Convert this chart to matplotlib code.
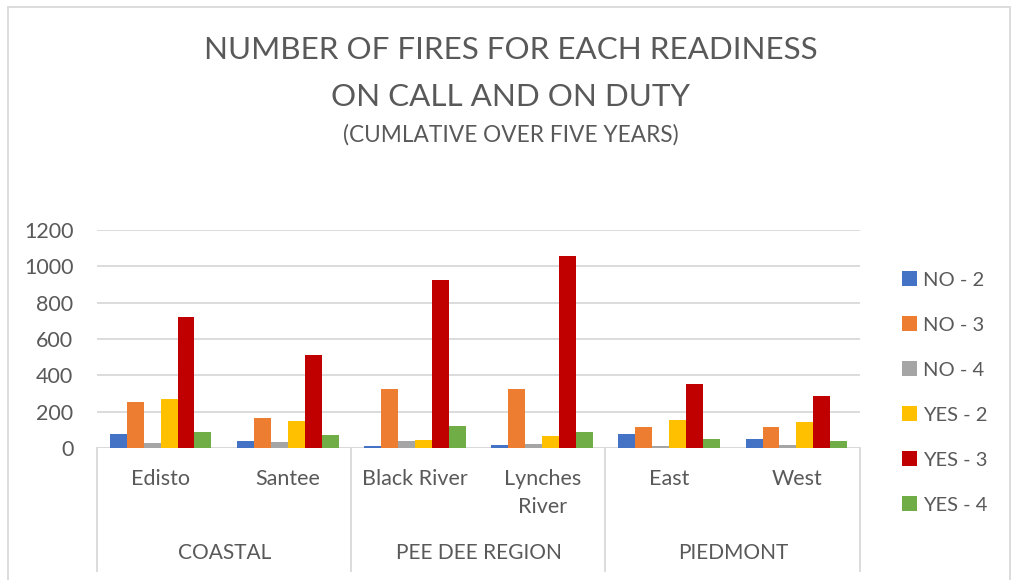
import matplotlib.pyplot as plt
import numpy as np
from matplotlib.lines import Line2D
from matplotlib.patches import Rectangle

plt.rcParams['font.family'] = ['Lato', 'DejaVu Sans']

# fires per district, grouped by region
regions = ['COASTAL', 'PEE DEE REGION', 'PIEDMONT']
districts = ['Edisto', 'Santee', 'Black River', 'Lynches\nRiver', 'East', 'West']
series = ['NO - 2', 'NO - 3', 'NO - 4', 'YES - 2', 'YES - 3', 'YES - 4']

no_2 = [79, 39, 11, 17, 79, 50]
no_3 = [253, 165, 323, 327, 114, 116]
no_4 = [28, 33, 40, 24, 13, 17]
yes_2 = [270, 147, 46, 66, 154, 143]
yes_3 = [723, 512, 923, 1059, 350, 288]
yes_4 = [90, 73, 119, 88, 50, 39]

values = [no_2, no_3, no_4, yes_2, yes_3, yes_4]
colors = ['#4472C4', '#ED7D31', '#A5A5A5', '#FFC000', '#C00000', '#70AD47']
txt = '#595959'
grid = '#D9D9D9'

W, H = 1013, 580
fig = plt.figure(figsize=(W / 100, H / 100), dpi=100)
ax = fig.add_axes([97 / W, (H - 448) / H, 763 / W, 218 / H])

x = np.arange(len(districts))
bw = 0.8 / len(series)
for j, (name, vals, c) in enumerate(zip(series, values, colors)):
    ax.bar(x + (j - 2.5) * bw, vals, bw, color=c, label=name, zorder=3)

ax.set_xlim(-0.5, len(districts) - 0.5)
ax.set_ylim(0, 1200)
ax.set_yticks(range(0, 1201, 200))
ax.yaxis.grid(True, color=grid, lw=1.3, zorder=0)
ax.tick_params(axis='y', length=0, pad=17, labelsize=15.5, labelcolor=txt)
ax.tick_params(axis='x', length=0, labelbottom=False)
for s in ax.spines.values():
    s.set_visible(False)
ax.axhline(0, color=grid, lw=1.3, zorder=2)

# two-level category axis below the plot
for i, d in enumerate(districts):
    ypx = 479 + 14 * d.count('\n')
    fig.text((97 + 127.2 * (i + 0.5)) / W, 1 - ypx / H, d, ha='center', va='center',
             fontsize=15.5, color=txt, linespacing=1.55)
for k, r in enumerate(regions):
    fig.text((97 + 254.4 * (k + 0.5)) / W, 1 - 553 / H, r, ha='center', va='center',
             fontsize=15, color=txt)
for px in [97, 351, 605, 860]:
    fig.add_artist(Line2D([px / W, px / W], [1 - 448 / H, 1 - 571 / H],
                          color=grid, lw=1.3, transform=fig.transFigure))

# titles
fig.text(0.504, 1 - 50 / H, 'NUMBER OF FIRES FOR EACH READINESS', ha='center', va='center',
         fontsize=22.6, color=txt)
fig.text(0.504, 1 - 97 / H, 'ON CALL AND ON DUTY', ha='center', va='center',
         fontsize=22.6, color=txt)
fig.text(0.504, 1 - 135 / H, '(CUMLATIVE OVER FIVE YEARS)', ha='center', va='center',
         fontsize=16.3, color=txt)

leg = fig.legend(loc='center left', bbox_to_anchor=(894 / W, 1 - 392.5 / H), frameon=False,
                 fontsize=14.5, handlelength=0.72, handleheight=0.72, handletextpad=0.3,
                 labelspacing=1.38, borderaxespad=0)
for t in leg.get_texts():
    t.set_color(txt)

# chart border
fig.add_artist(Rectangle((8 / W, -0.05), 1002 / W, 1.05 - 7 / H, fill=False,
                         edgecolor=grid, lw=1.3, transform=fig.transFigure))

fig.savefig('out.png', dpi=100)
